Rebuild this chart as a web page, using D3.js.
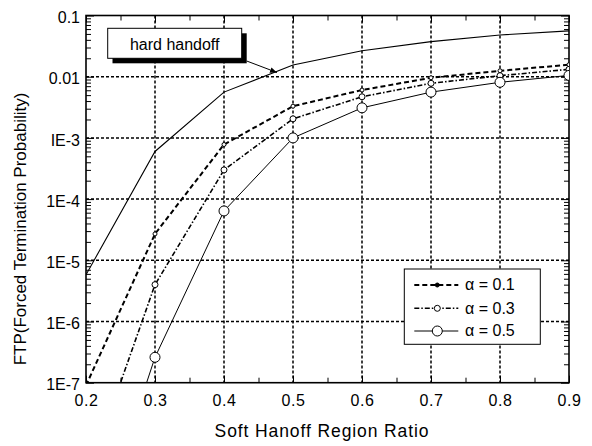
<!DOCTYPE html>
<html>
<head>
<meta charset="utf-8">
<script src="https://cdn.jsdelivr.net/npm/d3@7"></script>
<style>
  html, body { margin: 0; padding: 0; background: #fff; }
  svg { display: block; font-family: "Liberation Sans", Arial, Helvetica, sans-serif; }
</style>
</head>
<body>
<svg id="chart" width="592" height="446"></svg>
<script>
// ---- data ----
const xValues = [0.2, 0.3, 0.4, 0.5, 0.6, 0.7, 0.8, 0.9];
const hardHandoff = [5.8e-6, 6.0e-4, 5.6e-3, 0.0155, 0.0266, 0.0374, 0.048, 0.056];
const alpha01 = [9e-8, 2.7e-5, 7.8e-4, 3.3e-3, 6.05e-3, 9.6e-3, 0.0125, 0.0157];
const alpha03 = [2.5e-9, 4.0e-6, 3.0e-4, 2.05e-3, 4.7e-3, 7.8e-3, 0.0104, 0.0132];
const alpha05 = [1e-10, 2.6e-7, 6.4e-5, 1.0e-3, 3.1e-3, 5.6e-3, 8.1e-3, 0.0105];
const seriesNames = ["\u03b1 = 0.1", "\u03b1 = 0.3", "\u03b1 = 0.5"];
const xTicks = [0.2, 0.3, 0.4, 0.5, 0.6, 0.7, 0.8, 0.9];
const xTickLabels = ["0.2", "0.3", "0.4", "0.5", "0.6", "0.7", "0.8", "0.9"];
const xMinorTicks = [0.25, 0.35, 0.45, 0.55, 0.65, 0.75, 0.85];
const yTicks = [1e-7, 1e-6, 1e-5, 1e-4, 1e-3, 1e-2, 1e-1];
const yTickLabels = ["1E-7", "1E-6", "1E-5", "1E-4", "IE-3", "0.01", "0.1"];
const xTitle = "Soft Hanoff Region Ratio";
const yTitle = "FTP(Forced Termination Probability)";
const annotationText = "hard handoff";

// ---- layout ----
const L = 86, R = 569, T = 15.5, B = 382.7;
const svg = d3.select("#chart");
const x = d3.scaleLinear().domain([0.2, 0.9]).range([L, R]);
const y = d3.scaleLog().domain([1e-7, 0.1]).range([B, T]);

svg.append("rect").attr("width", 592).attr("height", 446).attr("fill", "#fff");

svg.append("defs").append("clipPath").attr("id", "plotclip")
  .append("rect").attr("x", L).attr("y", T).attr("width", R - L).attr("height", B - T);

// grid
const grid = svg.append("g").attr("stroke", "#000").attr("stroke-width", 1.5)
  .attr("stroke-dasharray", "3,2").attr("fill", "none");
xTicks.slice(1, -1).forEach(v => {
  grid.append("line").attr("x1", x(v)).attr("x2", x(v)).attr("y1", T).attr("y2", B);
});
yTicks.slice(1, -1).forEach(v => {
  grid.append("line").attr("x1", L).attr("x2", R).attr("y1", y(v)).attr("y2", y(v));
});

// minor y tick values
const yMinor = [];
for (let e = -7; e < -1; e++) for (let k = 2; k <= 9; k++) yMinor.push(k * Math.pow(10, e));

function styleTicks(g) {
  g.select(".domain").remove();
  g.selectAll("line").attr("stroke", "#000").attr("stroke-width", 1);
  g.selectAll("text").remove();
}
// inward ticks
svg.append("g").attr("transform", `translate(0,${B})`).call(d3.axisTop(x).tickValues(xTicks).tickSize(7)).call(styleTicks);
svg.append("g").attr("transform", `translate(0,${B})`).call(d3.axisTop(x).tickValues(xMinorTicks).tickSize(5)).call(styleTicks);
svg.append("g").attr("transform", `translate(0,${T})`).call(d3.axisBottom(x).tickValues(xTicks).tickSize(7)).call(styleTicks);
svg.append("g").attr("transform", `translate(0,${T})`).call(d3.axisBottom(x).tickValues(xMinorTicks).tickSize(5)).call(styleTicks);
svg.append("g").attr("transform", `translate(${L},0)`).call(d3.axisRight(y).tickValues(yTicks).tickSize(8)).call(styleTicks);
svg.append("g").attr("transform", `translate(${L},0)`).call(d3.axisRight(y).tickValues(yMinor).tickSize(5)).call(styleTicks);
svg.append("g").attr("transform", `translate(${R},0)`).call(d3.axisLeft(y).tickValues(yTicks).tickSize(8)).call(styleTicks);
svg.append("g").attr("transform", `translate(${R},0)`).call(d3.axisLeft(y).tickValues(yMinor).tickSize(5)).call(styleTicks);

// labels
const xl = svg.append("g").attr("transform", `translate(0,${B})`)
  .call(d3.axisBottom(x).tickValues(xTicks).tickSize(0).tickPadding(12).tickFormat((d, i) => xTickLabels[i]));
xl.select(".domain").remove();
xl.selectAll("text").attr("font-size", 16).attr("font-family", "Liberation Sans, Arial, sans-serif")
  .attr("fill", "#000").attr("letter-spacing", "0.6px");

const yl = svg.append("g").attr("transform", `translate(${L},0)`)
  .call(d3.axisLeft(y).tickValues(yTicks).tickSize(0).tickPadding(6).tickFormat((d, i) => yTickLabels[i]));
yl.select(".domain").remove();
yl.selectAll("text").attr("font-size", 16).attr("font-family", "Liberation Sans, Arial, sans-serif")
  .attr("fill", "#000").attr("dy", "0.45em");

// frame
svg.append("rect").attr("x", L).attr("y", T).attr("width", R - L).attr("height", B - T)
  .attr("fill", "none").attr("stroke", "#000").attr("stroke-width", 1.6);

// titles
svg.append("text").attr("x", 322).attr("y", 437).attr("text-anchor", "middle")
  .attr("font-size", 17.5).attr("letter-spacing", "0.9px").attr("fill", "#000").text(xTitle);
svg.append("text").attr("transform", "translate(26,229) rotate(-90)").attr("text-anchor", "middle")
  .attr("font-size", 17).attr("fill", "#000").text(yTitle);

// series
const series = [
  { name: "hard", values: hardHandoff, width: 1.1, dash: null, r: 0 },
  { name: seriesNames[0], values: alpha01, width: 2, dash: "5,3", r: 2 },
  { name: seriesNames[1], values: alpha03, width: 1.6, dash: "5,2,1.5,2", r: 3 },
  { name: seriesNames[2], values: alpha05, width: 1, dash: null, r: 5 }
];
const line = d3.line().x(d => x(d[0])).y(d => y(d[1]));
const plot = svg.append("g").attr("clip-path", "url(#plotclip)");
series.forEach(s => {
  const pts = xValues.map((v, i) => [v, s.values[i]]);
  plot.append("path").attr("d", line(pts)).attr("fill", "none").attr("stroke", "#000")
    .attr("stroke-width", s.width).attr("stroke-dasharray", s.dash);
});
series.forEach(s => {
  if (!s.r) return;
  const pts = xValues.map((v, i) => [v, s.values[i]]).filter(d => d[1] >= 1e-7);
  plot.selectAll(null).data(pts).enter().append("circle")
    .attr("cx", d => x(d[0])).attr("cy", d => y(d[1])).attr("r", s.r)
    .attr("fill", "#fff").attr("stroke", "#000").attr("stroke-width", 1);
});

// annotation
svg.append("rect").attr("x", 112.5).attr("y", 33.3).attr("width", 134.2).attr("height", 30).attr("fill", "#000");
svg.append("rect").attr("x", 107.7).attr("y", 28.3).attr("width", 134).attr("height", 30)
  .attr("fill", "#fff").attr("stroke", "#000").attr("stroke-width", 1);
svg.append("text").attr("x", 174.7).attr("y", 50).attr("text-anchor", "middle")
  .attr("font-size", 16).attr("fill", "#000").text(annotationText);
svg.append("defs").append("marker").attr("id", "arrowhead").attr("viewBox", "0 0 10 10")
  .attr("refX", 10).attr("refY", 5).attr("markerWidth", 7).attr("markerHeight", 7)
  .attr("markerUnits", "userSpaceOnUse").attr("orient", "auto")
  .append("path").attr("d", "M0,1 L10,5 L0,9 Z").attr("fill", "#000");
svg.append("line").attr("x1", 246.7).attr("y1", 61).attr("x2", 277).attr("y2", 72.5)
  .attr("stroke", "#000").attr("stroke-width", 1).attr("marker-end", "url(#arrowhead)");

// legend
const lg = svg.append("g");
lg.append("rect").attr("x", 404.3).attr("y", 269).attr("width", 136).attr("height", 75.3)
  .attr("fill", "#fff").attr("stroke", "#000").attr("stroke-width", 1);
const rowsY = [285, 308.3, 331];
series.slice(1).forEach((s, i) => {
  const yy = rowsY[i];
  lg.append("line").attr("x1", 414.3).attr("x2", 458.3).attr("y1", yy).attr("y2", yy)
    .attr("stroke", "#000").attr("stroke-width", s.width).attr("stroke-dasharray", s.dash);
  lg.append("circle").attr("cx", 437.3).attr("cy", yy).attr("r", s.r)
    .attr("fill", i === 0 ? "#000" : "#fff").attr("stroke", "#000").attr("stroke-width", 1);
  lg.append("text").attr("x", 465).attr("y", yy + 5.3).attr("font-size", 16)
    .attr("fill", "#000").text(s.name);
});
</script>
</body>
</html>
